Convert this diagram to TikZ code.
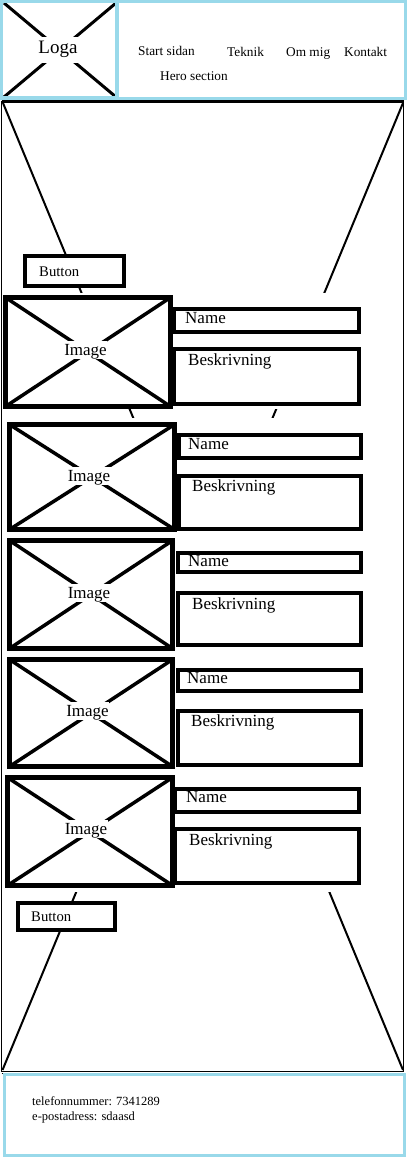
\documentclass[tikz,border=0pt]{standalone}
\usepackage{fontspec}
\setmainfont{Liberation Serif}
\definecolor{lblue}{RGB}{153,217,234}
% \mkbox[opts]{name}{x1}{y1}{x2}{y2}{line width}
\newcommand\mkbox[7][]{\node[rbx,#1,line width=#7pt,minimum width={(#5-#3)*1pt},minimum height={(#6-#4)*1pt}] (#2) at ({(#3+#5)/2},{(#4+#6)/2}) {};}
\begin{document}
\begin{tikzpicture}[x=1pt,y=-1pt,
  rbx/.style={draw, inner sep=0pt, outer sep=0pt},
  lbl/.style={inner sep=0pt, anchor=base west},
  navtxt/.style={lbl, font=\fontsize{13.3}{16}\selectfont},
  cardtxt/.style={lbl, font=\fontsize{17}{20}\selectfont},
  btntxt/.style={lbl, font=\fontsize{14.7}{17}\selectfont},
  foottxt/.style={lbl, font=\fontsize{12.5}{15}\selectfont},
  imgtxt/.style={anchor=base, fill=white, inner xsep=0.5pt, inner ysep=0pt, text height=14pt, text depth=4pt, font=\fontsize{17}{20}\selectfont},
  imgx/.style={line width=3.5pt},
  herox/.style={line width=2pt}]
\useasboundingbox (0,0) rectangle (408,1158);
\fill[white] (0,0) rectangle (408,1158);

% ---------- header ----------
\mkbox[draw=lblue]{header}{1.5}{1.5}{405}{98.5}{3}
\coordinate (ltl) at (4,3); \coordinate (ltr) at (116,3);
\coordinate (lbl) at (4,97); \coordinate (lbr) at (116,97);
\draw[line width=3pt] (ltl) -- (lbr) (ltr) -- (lbl);
\mkbox[draw=lblue]{logo}{1.5}{1.5}{117}{98}{3.5}
\node[anchor=base, fill=white, inner xsep=0.5pt, inner ysep=0pt, text height=17pt, text depth=9pt, font=\fontsize{19}{22}\selectfont] (logat) at (58,54) {Loga};
\node[navtxt] (nav1) at (138,56) {Start sidan};
\node[navtxt] (nav2) at (227,57) {Teknik};
\node[navtxt] (nav3) at (286,57) {Om mig};
\node[navtxt] (nav4) at (344,57) {Kontakt};
\node[navtxt] (nav5) at (160,81) {Hero section};

% ---------- hero ----------
\mkbox{hero}{1.5}{102}{403.5}{1071.5}{1.5}
\draw[line width=3pt] (hero.north west) -- (hero.north east);
\draw[line width=1.2pt] ([yshift=-1.7pt]hero.south west) -- ([yshift=-1.7pt]hero.south east);
\coordinate (htl) at (3,103); \coordinate (htr) at (403,103);
\coordinate (hbl) at (2.5,1070); \coordinate (hbr) at (403,1070);
\draw[herox] (htl) -- (hbr) (htr) -- (hbl);
\mkbox[draw=none,fill=white]{contA}{3}{293}{401}{409}{0}
\mkbox[draw=none,fill=white]{contB}{3}{418}{401}{892}{0}

% buttons
\mkbox[fill=white]{btnA}{25}{256}{124}{286}{4}
\node[btntxt] (btnAt) at (39,276) {Button};
\mkbox[fill=white]{btnB}{18}{903}{115}{930}{4}
\node[btntxt] (btnBt) at (31,921) {Button};

% ---------- cards ----------
% card 1
\mkbox{img1}{5.5}{297.5}{170.5}{406.5}{5}
\draw[imgx] (img1.north west) -- (img1.south east) (img1.north east) -- (img1.south west);
\node[imgtxt] (img1t) at (85.5,355) {Image};
\mkbox{name1}{174}{309}{359}{332}{4}
\node[cardtxt] (name1t) at (185,323) {Name};
\mkbox{desc1}{174}{349}{359}{404}{4}
\node[cardtxt] (desc1t) at (188,365) {Beskrivning};

% card 2
\mkbox{img2}{9.5}{424.5}{174.5}{529.5}{5}
\draw[imgx] (img2.north west) -- (img2.south east) (img2.north east) -- (img2.south west);
\node[imgtxt] (img2t) at (89,481) {Image};
\mkbox{name2}{179}{435}{361}{458}{4}
\node[cardtxt] (name2t) at (188,449) {Name};
\mkbox{desc2}{179}{476}{361}{529}{4}
\node[cardtxt] (desc2t) at (192,491) {Beskrivning};

% card 3
\mkbox{img3}{9.5}{540.5}{172.5}{648.5}{5}
\draw[imgx] (img3.north west) -- (img3.south east) (img3.north east) -- (img3.south west);
\node[imgtxt] (img3t) at (89,598) {Image};
\mkbox{name3}{178}{553}{361}{572}{4}
\node[cardtxt] (name3t) at (188,566) {Name};
\mkbox{desc3}{178}{593}{361}{645}{4}
\node[cardtxt] (desc3t) at (192,609) {Beskrivning};

% card 4
\mkbox{img4}{9.5}{659.5}{172.5}{766.5}{5}
\draw[imgx] (img4.north west) -- (img4.south east) (img4.north east) -- (img4.south west);
\node[imgtxt] (img4t) at (87.5,716) {Image};
\mkbox{name4}{178}{670}{361}{691}{4}
\node[cardtxt] (name4t) at (187,683) {Name};
\mkbox{desc4}{178}{711}{361}{765}{4}
\node[cardtxt] (desc4t) at (191,726) {Beskrivning};

% card 5
\mkbox{img5}{7.5}{777.5}{172.5}{885.5}{5}
\draw[imgx] (img5.north west) -- (img5.south east) (img5.north east) -- (img5.south west);
\node[imgtxt] (img5t) at (86,834) {Image};
\mkbox{name5}{175}{789}{359}{812}{4}
\node[cardtxt] (name5t) at (186,802) {Name};
\mkbox{desc5}{175}{829}{359}{883}{4}
\node[cardtxt] (desc5t) at (189,845) {Beskrivning};

% ---------- footer ----------
\mkbox[draw=lblue]{footer}{4}{1074.5}{404}{1155.5}{3}
\node[foottxt] (tel) at (32,1105) {telefonnummer: 7341289};
\node[foottxt] (mail) at (32,1120) {e-postadress: sdaasd};
\end{tikzpicture}
\end{document}
